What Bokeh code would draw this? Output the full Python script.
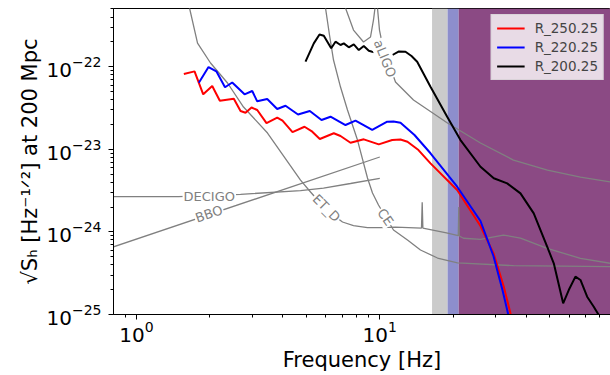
import numpy as np
from bokeh.plotting import figure
from bokeh.models import BoxAnnotation, Legend, LegendItem, FixedTicker
from bokeh.core.properties import value
from bokeh.embed import file_html
from bokeh.resources import INLINE

FONT = "DejaVu Sans"

# ---------------- data: log10(frequency [Hz]) and log10(sqrt(S_h)) ----------------
red_log_f = [0.1944, 0.2384, 0.2741, 0.3111, 0.3424, 0.3999, 0.4275, 0.4480, 0.4727, 0.4961,
             0.5343, 0.5783, 0.6001, 0.6412, 0.6905, 0.7193, 0.7534, 0.8109, 0.8385, 0.8796,
             0.9342, 0.9959, 1.0509, 1.0851, 1.1138, 1.1590, 1.2084, 1.3181, 1.4139, 1.4686,
             1.5097, 1.5372, 1.5495]
red_log_h = [-22.088, -22.056, -22.334, -22.234, -22.412, -22.388, -22.536, -22.557, -22.494, -22.524,
             -22.682, -22.615, -22.652, -22.791, -22.727, -22.779, -22.875, -22.806, -22.839, -22.920,
             -22.879, -22.940, -22.888, -22.882, -22.908, -23.009, -23.170, -23.493, -23.929, -24.268,
             -24.664, -24.986, -25.19]

blue_log_f = [0.2561, 0.2959, 0.3280, 0.3637, 0.3933, 0.4139, 0.4439, 0.4755, 0.4961, 0.5372,
              0.5783, 0.6124, 0.6638, 0.7123, 0.7604, 0.7974, 0.8590, 0.9001, 0.9688, 1.0304,
              1.0563, 1.0851, 1.1426, 1.2084, 1.3181, 1.4139, 1.4673, 1.5043, 1.5269, 1.5372]
blue_log_h = [-22.194, -22.004, -22.056, -22.249, -22.191, -22.249, -22.334, -22.294, -22.419, -22.391,
              -22.512, -22.472, -22.579, -22.536, -22.645, -22.605, -22.706, -22.652, -22.766, -22.666,
              -22.663, -22.678, -22.827, -23.048, -23.453, -23.868, -24.292, -24.704, -24.986, -25.19]

black_log_f = [0.6946, 0.7287, 0.7521, 0.7698, 0.8002, 0.8179, 0.8385, 0.8520, 0.8726, 0.8931,
               0.9137, 0.9342, 0.9548, 0.9688, 1.0152, 1.0522, 1.0769, 1.1056, 1.1303, 1.1537,
               1.2084, 1.2770, 1.3317, 1.4139, 1.4686, 1.5236, 1.5783, 1.6329, 1.6880, 1.7152,
               1.7538, 1.7768, 1.8043, 1.8249, 1.8524, 1.8796, 1.9001, 1.9153]
black_log_h = [-21.939, -21.717, -21.610, -21.625, -21.777, -21.697, -21.737, -21.717, -21.765, -21.729,
               -21.798, -21.749, -21.806, -21.818, -21.846, -21.858, -21.816, -21.818, -21.870, -21.939,
               -22.242, -22.605, -22.888, -23.211, -23.351, -23.412, -23.533, -23.775, -24.179, -24.380,
               -24.864, -24.704, -24.542, -24.582, -24.785, -24.906, -25.006, -25.127]

etd_log_f = [0.2096, 0.2178, 0.2507, 0.3041, 0.3740, 0.4398, 0.5384, 0.6741, 0.7152, 0.7809,
             0.8467, 0.8919, 0.9494, 1.0029, 1.0645, 1.1714, 1.1743, 1.1771, 1.2741, 1.3226,
             1.3247, 1.3267, 1.3440, 1.4139, 1.5084, 1.5783, 1.6880, 1.8249, 1.9482, 1.9893]
etd_log_h = [-21.192, -21.289, -21.713, -21.955, -22.197, -22.488, -22.803, -23.372, -23.517, -23.735,
             -23.880, -23.923, -23.947, -23.947, -23.941, -23.953, -23.640, -23.953, -24.013, -24.044,
             -23.699, -24.050, -24.077, -24.090, -24.038, -24.074, -24.199, -24.320, -24.380, -24.400]

ce_log_f = [0.7645, 0.7768, 0.7932, 0.8097, 0.8385, 0.8672, 0.9083, 0.9494, 0.9700, 0.9946,
            1.0563, 1.1138, 1.1673, 1.2372, 1.3194, 1.5495, 1.9482, 1.9893]
ce_log_h = [-21.011, -21.289, -21.616, -21.919, -22.246, -22.524, -22.888, -23.347, -23.529, -23.674,
            -23.977, -24.098, -24.219, -24.316, -24.376, -24.409, -24.421, -24.420]

aligo_log_f = [0.8508, 0.8590, 0.8919, 0.9330, 0.9618, 0.9741, 0.9803, 0.9856, 0.9905, 0.9987,
               1.0070, 1.0357, 1.0645, 1.1385, 1.2782, 1.4139, 1.5495, 1.6893, 1.8249, 1.9482,
               1.9893]
aligo_log_h = [-21.071, -21.289, -21.556, -21.701, -21.640, -21.434, -21.289, -21.071, -21.289, -21.556,
               -21.677, -21.943, -22.185, -22.403, -22.682, -22.924, -23.130, -23.251, -23.336, -23.396,
               -23.414]

decigo_log_f = [-0.301, 0.1726, 0.4275, 0.6741, 0.7686, 0.8796, 1.0]
decigo_log_h = [-23.574, -23.572, -23.545, -23.501, -23.469, -23.414, -23.351]

bbo_log_f = [-0.301, 1.0]
bbo_log_h = [-24.386, -23.093]

series_names = ["R_250.25", "R_220.25", "R_200.25"]
curve_labels = ["DECIGO", "BBO", "ET_D", "CE", "aLIGO"]
curve_label_log_f = [0.2990, 0.2980, 0.7809, 1.0234, 1.0214]
curve_label_log_h = [-23.567, -23.783, -23.711, -23.820, -21.901]

band_edges_hz = [16.4, 19.0, 21.1]

x_ticks = [1, 10]
y_ticks = [1e-25, 1e-24, 1e-23, 1e-22]

# ---------------- figure ----------------
p = figure(width=610, height=375, x_axis_type="log", y_axis_type="log",
           x_range=(0.804, 88.8), y_range=(1e-25, 5.07e-22),
           output_backend="svg", toolbar_location=None,
           min_border_left=113, min_border_right=0, min_border_top=8, min_border_bottom=61)
p.grid.visible = False
p.background_fill_color = "white"
p.border_fill_color = "white"
p.outline_line_color = "black"
p.outline_line_width = 1

# shaded frequency bands
p.add_layout(BoxAnnotation(left=band_edges_hz[0], right=band_edges_hz[1], fill_color="#cbcbcb",
                           fill_alpha=1.0, line_alpha=0, level="underlay"))
p.add_layout(BoxAnnotation(left=band_edges_hz[1], right=band_edges_hz[2], fill_color="#8d8ecc",
                           fill_alpha=1.0, line_alpha=0, level="underlay"))
p.add_layout(BoxAnnotation(left=band_edges_hz[2], fill_color="#8b4a84",
                           fill_alpha=1.0, line_alpha=0, level="underlay"))

def pw(a):
    return (10.0 ** np.array(a)).tolist()

GRAY = "#808080"
for lf, lh in [(etd_log_f, etd_log_h), (ce_log_f, ce_log_h), (aligo_log_f, aligo_log_h),
               (decigo_log_f, decigo_log_h), (bbo_log_f, bbo_log_h)]:
    p.line(pw(lf), pw(lh), line_color=GRAY, line_width=1.3)

r_red = p.line(pw(red_log_f), pw(red_log_h), line_color="red", line_width=2)
r_blue = p.line(pw(blue_log_f), pw(blue_log_h), line_color="blue", line_width=2)
r_black = p.line(pw(black_log_f), pw(black_log_h), line_color="black", line_width=2)

# inline curve labels
angles = [0, 19, -45, -55, -68]
p.text(x=pw(curve_label_log_f), y=pw(curve_label_log_h), text=curve_labels, angle=angles,
       angle_units="deg", text_align="center", text_baseline="middle",
       text_font=value(FONT), text_font_size="13px", text_color=GRAY,
       background_fill_color="white", padding=1)

# axes
minor_x = [0.9] + [k for k in range(2, 10)] + [10 * k for k in range(2, 10)]
minor_y = []
for e in (-25, -24, -23, -22):
    for k in range(2, 10):
        minor_y.append(k * 10.0 ** e)
p.xaxis.ticker = FixedTicker(ticks=x_ticks, minor_ticks=minor_x)
p.yaxis.ticker = FixedTicker(ticks=y_ticks, minor_ticks=minor_y)

for ax in (p.xaxis, p.yaxis):
    ax.major_label_text_font = FONT
    ax.major_label_text_font_size = "20px"
    ax.major_label_text_color = "black"
    ax.axis_label_text_font = FONT
    ax.axis_label_text_font_size = "21px"
    ax.axis_label_text_font_style = "normal"
    ax.axis_label_text_color = "black"
    ax.major_tick_in = 0
    ax.major_tick_out = 5
    ax.minor_tick_in = 0
    ax.minor_tick_out = 3
    ax.axis_line_color = "black"
    ax.major_tick_line_color = "black"
    ax.minor_tick_line_color = "black"

p.xaxis.axis_label = "Frequency [Hz]"
p.xaxis.major_label_standoff = 1
p.xaxis.axis_label_standoff = 3
p.yaxis.axis_label = "√Sₕ [Hz⁻¹ᐟ²] at 200 Mpc"
p.yaxis.major_label_standoff = 7
p.yaxis.axis_label_standoff = 2

legend = Legend(items=[LegendItem(label=series_names[0], renderers=[r_red]),
                       LegendItem(label=series_names[1], renderers=[r_blue]),
                       LegendItem(label=series_names[2], renderers=[r_black])],
                location="top_right")
legend.label_text_font = FONT
legend.label_text_font_size = "13.5px"
legend.background_fill_color = "white"
legend.background_fill_alpha = 0.8
legend.border_line_color = "#cccccc"
legend.border_line_width = 1
legend.margin = 6
legend.padding = 5
legend.spacing = 3
legend.glyph_width = 28
legend.glyph_height = 16
legend.label_height = 16
legend.label_standoff = 10
p.add_layout(legend)

open("out.html", "w").write(file_html(p, INLINE))
